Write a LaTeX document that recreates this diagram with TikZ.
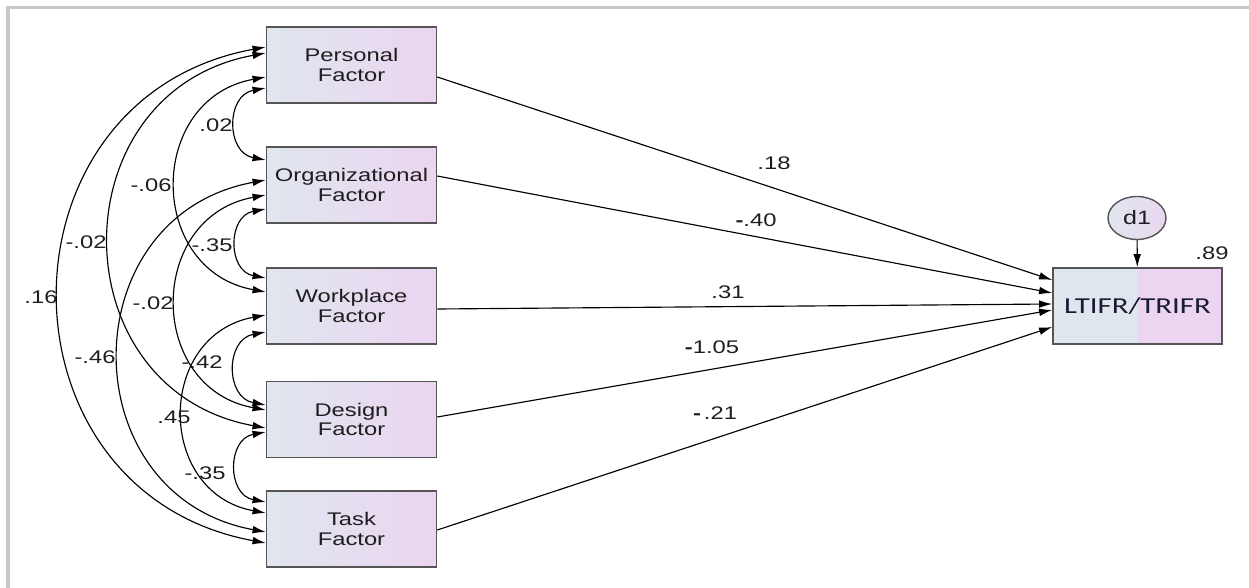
\documentclass[tikz,border=0pt]{standalone}
\usepackage{fontspec}
\setmainfont{Liberation Sans}[FakeStretch=1.3]
\newfontfamily\calibfont{Carlito}[FakeStretch=1.35]
\usetikzlibrary{arrows.meta,calc,shapes.geometric}

\definecolor{boxleft}{HTML}{E0E6EE}
\definecolor{boxright}{HTML}{EBD5F1}
\definecolor{rim}{HTML}{555555}
\definecolor{framegray}{HTML}{C8C8C8}
\definecolor{ink}{HTML}{1E1E1E}

\tikzset{
    factor/.style={draw=rim, line width=0.9pt, left color=boxleft, right color=boxright,
        minimum width=3.4cm, minimum height=1.52cm, inner sep=0pt, align=center, text=ink},
    outcome/.style={draw=rim, line width=0.9pt, fill=boxleft,
        path picture={\fill[boxright] (path picture bounding box.north) rectangle (path picture bounding box.south east);},
        minimum width=3.38cm, minimum height=1.52cm, inner sep=0pt, text=ink!90!blue,
        font=\calibfont\fontsize{13}{14}\selectfont},
    err/.style={ellipse, draw=rim, line width=0.8pt, left color=boxleft, right color=boxright!90!boxleft,
        minimum width=1.16cm, minimum height=0.86cm, inner sep=0pt, text=ink,
        font=\fontsize{11}{12}\selectfont},
    coef/.style={inner sep=1pt, text=ink},
    cov/.style={<->, line width=0.65pt},
    reg/.style={->, line width=0.65pt}
}

\begin{document}
\begin{tikzpicture}[x=0.02cm, y=-0.02cm, >={Latex[length=7.5pt,width=4.4pt]},
    font=\fontsize{10.4}{11.3}\selectfont]
    \useasboundingbox (0,0) rectangle (1249,588);
    \draw[framegray, line width=2pt] (8,588) -- (8,7.5) -- (1249,7.5);

    % exogenous factors
    \node[factor] (pers) at (351.5,65) {Personal\\Factor};
    \node[factor] (org) at (351.5,185) {Organizational\\Factor};
    \node[factor] (work) at (351.5,306) {Workplace\\Factor};
    \node[factor] (des) at (351.5,419.5) {Design\\Factor};
    \node[factor] (task) at (351.5,529) {Task\\Factor};

    % outcome and its disturbance
    \node[outcome] (out) at (1137.5,306) {LTIFR/TRIFR};
    \node[err] (d1) at (1137,218) {d1};
    \draw[reg] (d1) -- (out);
    \node[coef] (r2) at (1212,253) {.89};

    % covariances
    \foreach \a/\da/\b/\db/\l in {pers/-18/task/14/496, pers/-12/des/8.5/375, pers/12/work/-14/215,
        pers/23/org/-25/72, org/-5/task/3/352, org/10/des/-9.5/215, org/24/work/-28/69,
        work/9/task/-16/198, work/26/des/-14.5/73, des/12.5/task/-27/70} {
        \draw[cov] ($(\a.west)+(0,\da)$) .. controls +(-0.555*\l,0.102*\l) and +(-0.555*\l,-0.102*\l) .. ($(\b.west)+(0,\db)$);
    }

    % regression weights
    \foreach \a/\da/\db in {pers/12/-26, org/-9/-13, work/3/-2, des/-2.5/4, task/1/21} {
        \draw[reg] ($(\a.east)+(0,\da)$) -- ($(out.west)+(0,\db)$);
    }

    \node[coef] (b1) at (774,163) {.18};
    \node[coef] (b2) at (756,220) {\textbf{-}.40};
    \node[coef] (b3) at (728,292) {.31};
    \node[coef] (b4) at (712,347) {\textbf{-}1.05};
    \node[coef] (b5) at (715,413) {\textbf{-}\,.21};

    \node[coef] (c1) at (216,125) {.02};
    \node[coef] (c2) at (151,185) {-.06};
    \node[coef] (c3) at (86,242) {-.02};
    \node[coef] (c4) at (212,245) {-.35};
    \node[coef] (c5) at (41,297) {.16};
    \node[coef] (c6) at (153,303) {-.02};
    \node[coef] (c7) at (95,357) {-.46};
    \node[coef] (c8) at (202,362) {-.42};
    \node[coef] (c9) at (174,417) {.45};
    \node[coef] (c10) at (205,473) {-.35};

\end{tikzpicture}
\end{document}
